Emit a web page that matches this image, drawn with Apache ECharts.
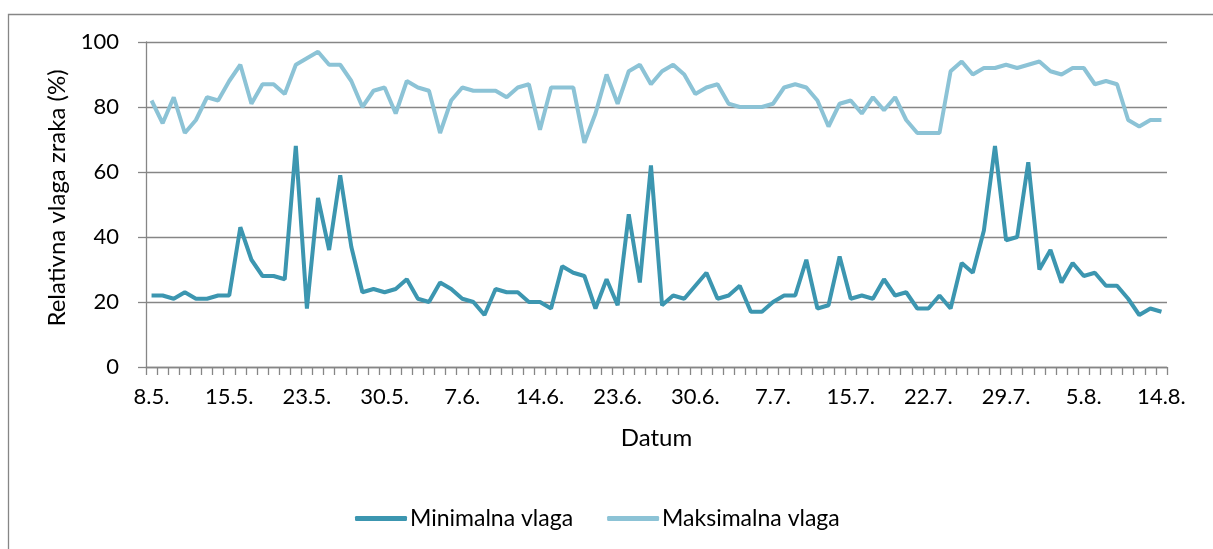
<!DOCTYPE html>
<html>
<head>
<meta charset="utf-8">
<script src="https://cdn.jsdelivr.net/npm/echarts@6/dist/echarts.min.js"></script>
<style>
html,body{margin:0;padding:0;background:#fff;}
#chart{width:1213px;height:549px;}
</style>
</head>
<body>
<div id="chart"></div>
<script>
// Dates (categories) – some days missing in the record
const dates = [
 '8.5.','9.5.','10.5.','11.5.','12.5.','13.5.','14.5.','15.5.','16.5.','17.5.','18.5.','20.5.','21.5.','22.5.',
 '23.5.','24.5.','25.5.','26.5.','27.5.','28.5.','29.5.','30.5.','31.5.','1.6.','2.6.','4.6.','5.6.','6.6.',
 '7.6.','8.6.','9.6.','10.6.','11.6.','12.6.','13.6.','14.6.','15.6.','16.6.','17.6.','20.6.','21.6.','22.6.',
 '23.6.','24.6.','25.6.','26.6.','27.6.','28.6.','29.6.','30.6.','1.7.','2.7.','3.7.','4.7.','5.7.','6.7.',
 '7.7.','8.7.','9.7.','10.7.','12.7.','13.7.','14.7.','15.7.','16.7.','17.7.','18.7.','19.7.','20.7.','21.7.',
 '22.7.','23.7.','24.7.','25.7.','26.7.','27.7.','28.7.','29.7.','30.7.','31.7.','1.8.','2.8.','3.8.','4.8.',
 '5.8.','6.8.','7.8.','8.8.','11.8.','12.8.','13.8.','14.8.'
];
const minVlaga = [
 22,22,21,23,21,21,22,22,43,33,28,28,27,68,
 18,52,36,59,37,23,24,23,24,27,21,20,26,24,
 21,20,16,24,23,23,20,20,18,31,29,28,18,27,
 19,47,26,62,19,22,21,25,29,21,22,25,17,17,
 20,22,22,33,18,19,34,21,22,21,27,22,23,18,
 18,22,18,32,29,42,68,39,40,63,30,36,26,32,
 28,29,25,25,21,16,18,17
];
const maxVlaga = [
 82,75,83,72,76,83,82,88,93,81,87,87,84,93,
 95,97,93,93,88,80,85,86,78,88,86,85,72,82,
 86,85,85,85,83,86,87,73,86,86,86,69,78,90,
 81,91,93,87,91,93,90,84,86,87,81,80,80,80,
 81,86,87,86,82,74,81,82,78,83,79,83,76,72,
 72,72,91,94,90,92,92,93,92,93,94,91,90,92,
 92,87,88,87,76,74,76,76
];
const yTicks = [0,20,40,60,80,100];
const seriesNames = ['Minimalna vlaga','Maksimalna vlaga'];
const colors = ['#3C96B0','#8CC3D6'];

const FONT = 'Lato';
const chart = echarts.init(document.getElementById('chart'), null, {renderer:'canvas'});
chart.setOption({
  animation:false,
  backgroundColor:'#ffffff',
  textStyle:{fontFamily:FONT, color:'#000'},
  graphic:[{
    type:'rect', left:6, top:12, silent:true,
    shape:{x:0,y:0,width:1220,height:560},
    style:{fill:'none', stroke:'#868686', lineWidth:1.3}
  }],
  grid:{left:146, right:46, top:42, bottom:182, containLabel:false},
  legend:{
    data:seriesNames,
    left:350, top:502,
    itemWidth:52, itemHeight:5, itemGap:34,
    icon:'roundRect',
    textStyle:{fontFamily:FONT, fontSize:23, color:'#000', padding:[0,0,0,-2]}
  },
  xAxis:{
    type:'category', data:dates, boundaryGap:true,
    name:'Datum', nameLocation:'middle', nameGap:59,
    nameTextStyle:{fontFamily:FONT, fontSize:24, color:'#000'},
    axisLine:{lineStyle:{color:'#868686', width:1.3}},
    axisTick:{show:true, interval:0, length:8, lineStyle:{color:'#868686', width:1.3}},
    axisLabel:{interval:6, margin:19, fontFamily:FONT, fontSize:22, color:'#000'},
    splitLine:{show:false}
  },
  yAxis:{
    type:'value', min:yTicks[0], max:yTicks[yTicks.length-1], interval:20,
    name:'Relativna vlaga zraka (%)', nameLocation:'middle', nameGap:77,
    nameTextStyle:{fontFamily:FONT, fontSize:24, color:'#000', padding:[0,0,0,13]},
    axisLine:{show:true, lineStyle:{color:'#868686', width:1.3}},
    axisTick:{show:true, length:8, lineStyle:{color:'#868686', width:1.3}},
    axisLabel:{margin:27, fontFamily:FONT, fontSize:22, color:'#000'},
    splitLine:{show:true, lineStyle:{color:'#868686', width:1.3}}
  },
  series:[
    {name:seriesNames[0], type:'line', data:minVlaga, showSymbol:false, symbol:'none',
     lineStyle:{color:colors[0], width:4}, itemStyle:{color:colors[0]}},
    {name:seriesNames[1], type:'line', data:maxVlaga, showSymbol:false, symbol:'none',
     lineStyle:{color:colors[1], width:4}, itemStyle:{color:colors[1]}}
  ]
});
</script>
</body>
</html>
